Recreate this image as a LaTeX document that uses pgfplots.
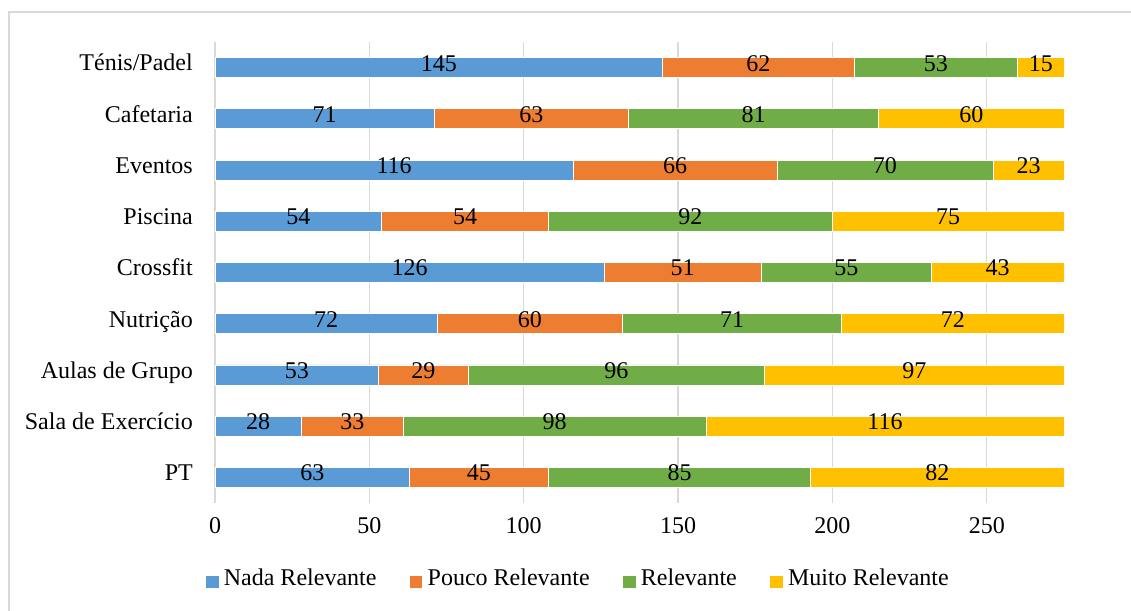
\documentclass[border=0pt]{standalone}
\usepackage{fontspec}
\setmainfont{Liberation Serif}
\usepackage{pgfplots}
\usepackage{pgfplotstable}
\pgfplotsset{compat=1.18}

\definecolor{cNada}{HTML}{5B9BD5}
\definecolor{cPouco}{HTML}{ED7D31}
\definecolor{cRel}{HTML}{70AD47}
\definecolor{cMuito}{HTML}{FFC000}
\definecolor{cGrid}{HTML}{D9D9D9}

% idx 0 = bottom row (PT), idx 8 = top row (Ténis/Padel)
\pgfplotstableread{
idx nada pouco relev muito
0   63   45    85    82
1   28   33    98    116
2   53   29    96    97
3   72   60    71    72
4   126  51    55    43
5   54   54    92    75
6   116  66    70    23
7   71   63    81    60
8   145  62    53    15
}\resp

\begin{document}
\begin{tikzpicture}[font=\fontsize{24bp}{28bp}\selectfont]
\useasboundingbox (0,0) rectangle (1131bp,611bp);
\draw[cGrid, line width=1.5bp] (9bp,0) -- (9bp,599bp) -- (1131bp,599bp);
\begin{axis}[
  at={(215bp,108bp)}, anchor=south west,
  scale only axis, width=849bp, height=461bp,
  xbar stacked, bar width=20bp,
  xmin=0, xmax=275, ymin=-0.5, ymax=8.5,
  xtick={0,50,...,250},
  ytick={0,...,8},
  yticklabels={PT, Sala de Exercício, Aulas de Grupo, Nutrição, Crossfit,
    Piscina, Eventos, Cafetaria, Ténis/Padel},
  axis line style={draw=none},
  major tick length=0pt,
  xmajorgrids,
  major grid style={cGrid, line width=1.2bp},
  /pgf/number format/assume math mode=true,
  xticklabel style={anchor=center, yshift=-27.5bp, inner sep=0pt,
    text height=0.68em, text depth=0pt},
  yticklabel style={anchor=east, xshift=-22bp, inner sep=0pt,
    text height=0.66em, text depth=0pt},
  point meta=explicit symbolic,
  nodes near coords,
  every node near coord/.append style={anchor=center, inner sep=0pt,
    text height=0.68em, text depth=0pt, black},
  every axis plot/.append style={draw=white, line width=0.75bp},
  legend columns=4,
  legend style={
    at={(axis description cs:0.4269,-0.1714)}, anchor=center,
    draw=none, fill=none,
    cells={anchor=west},
    nodes={inner sep=0pt, text height=0.66em, text depth=0pt},
    /tikz/every odd column/.style={column sep=5.5bp},
    /tikz/every even column/.style={column sep=33.5bp},
  },
  sq/.style={legend image code/.code={
    \fill[#1] (0bp,-5.5bp) rectangle (11.5bp,5.5bp);}},
]
\addplot[fill=cNada, sq=cNada] table[x=nada, y=idx, meta=nada] {\resp};
\addplot[fill=cPouco, sq=cPouco] table[x=pouco, y=idx, meta=pouco] {\resp};
\addplot[fill=cRel, sq=cRel] table[x=relev, y=idx, meta=relev] {\resp};
\addplot[fill=cMuito, sq=cMuito] table[x=muito, y=idx, meta=muito] {\resp};
\legend{Nada Relevante, Pouco Relevante, Relevante, Muito Relevante}
\end{axis}
\end{tikzpicture}
\end{document}
